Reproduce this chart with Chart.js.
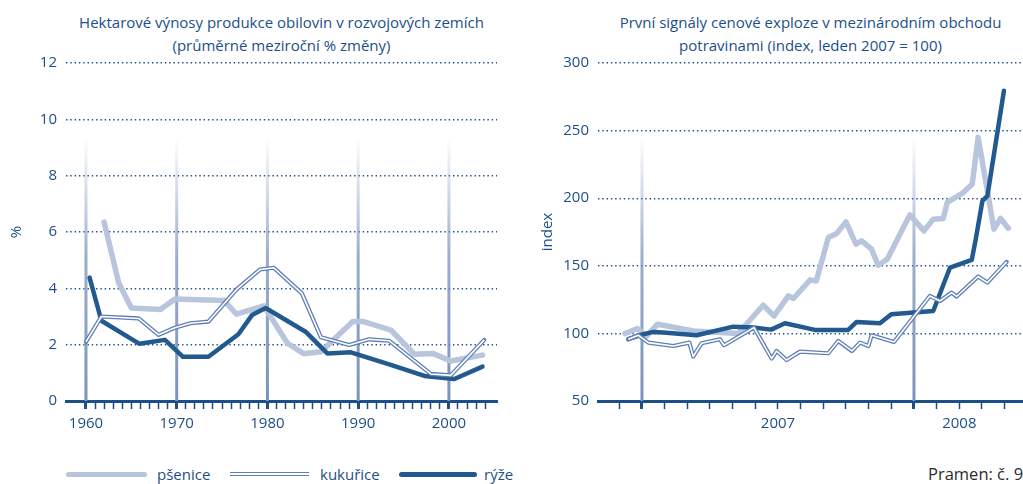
<!DOCTYPE html>
<html lang="cs">
<head>
<meta charset="utf-8">
<title>Výnosy obilovin a ceny potravin</title>
<script src="https://cdn.jsdelivr.net/npm/chart.js@4.4.1/dist/chart.umd.min.js"></script>
<style>
  html, body { margin: 0; padding: 0; background: #fff; }
  body { position: relative; width: 1023px; height: 484px; overflow: hidden;
         font-family: "Open Sans", sans-serif; color: #1c4f89; }
  canvas { position: absolute; top: 0; }
  #grafVynosy { left: 0; }
  #grafCeny { left: 520px; }
  .nadpis { position: absolute; top: 11px; text-align: center; font-size: 15px; line-height: 23px; white-space: nowrap; }
  .legenda { position: absolute; top: 464px; font-size: 15px; line-height: 20px; white-space: nowrap; }
  .vzorek { position: absolute; top: 472px; }
</style>
</head>
<body>

<div class="nadpis" style="left:66px; width:431px;">Hektarové výnosy produkce obilovin v rozvojových zemích<br>(průměrné meziroční % změny)</div>
<div class="nadpis" style="left:598px; width:425px;">První signály cenové exploze v mezinárodním obchodu<br>potravinami (index, leden 2007 = 100)</div>

<canvas id="grafVynosy" width="520" height="440"></canvas>
<canvas id="grafCeny" width="503" height="440"></canvas>

<div class="vzorek" style="left:66px; width:81px; height:5px; background:#b9c5dd; border-radius:3px;"></div>
<div class="legenda" style="left:157px;">pšenice</div>
<div class="vzorek" style="left:230px; width:79px; height:2px; background:#fff; border-top:1px solid #5f7fb4; border-bottom:1px solid #5f7fb4; top:472px;"></div>
<div class="legenda" style="left:320px;">kukuřice</div>
<div class="vzorek" style="left:399px; width:78px; height:5px; background:#22598f; border-radius:3px;"></div>
<div class="legenda" style="left:484px;">rýže</div>
<div class="legenda" style="left:928px; color:#2b2b2b; font-size:16.5px;">Pramen: č. 9</div>

<script>
// --- levý graf: výnosy (průměrné meziroční % změny) ---
const psenice1Roky = [1962, 1963.6, 1965, 1968.2, 1969.8, 1975.2, 1976.6, 1979.6, 1982.2, 1984, 1985.9, 1989.4, 1990.6, 1993.6, 1996.2, 1998.2, 2000.2, 2003.7];
const psenice1Hodnoty = [6.35, 4.2, 3.3, 3.25, 3.62, 3.57, 3.08, 3.38, 2.05, 1.68, 1.75, 2.82, 2.82, 2.52, 1.66, 1.69, 1.42, 1.63];

const kukurice1Roky = [1960, 1961.7, 1965.8, 1968, 1969.8, 1971.5, 1973.5, 1976.6, 1979.2, 1980.7, 1983.8, 1985.9, 1989, 1991.2, 1993.4, 1998, 2000.2, 2003.9];
const kukurice1Hodnoty = [2.1, 3.0, 2.93, 2.35, 2.6, 2.76, 2.82, 3.96, 4.67, 4.73, 3.82, 2.26, 1.99, 2.19, 2.14, 0.96, 0.91, 2.17];

const ryze1Roky = [1960.4, 1961.7, 1965.9, 1968.7, 1970.7, 1973.5, 1976.8, 1978.3, 1979.8, 1984.2, 1986.6, 1989.2, 1993.6, 1997.3, 2000.6, 2003.7];
const ryze1Hodnoty = [4.38, 2.85, 2.03, 2.17, 1.57, 1.57, 2.37, 3.05, 3.3, 2.46, 1.69, 1.73, 1.28, 0.89, 0.78, 1.22];

const dekady = [1960, 1970, 1980, 1990, 2000];

// --- pravý graf: cenový index (měsíce od ledna 2007) ---
const psenice2Mesice = [-0.75, -0.2, 0.18, 0.69, 2.27, 4.24, 5.35, 5.83, 6.46, 6.68, 7.42, 7.69, 8.22, 8.59, 9.0, 9.44, 9.69, 10.13, 10.42, 10.82, 11.82, 12.44, 12.85, 13.29, 13.47, 14.14, 14.57, 14.83, 15.53, 15.82, 16.16];
const psenice2Hodnoty = [99.9, 103.6, 97.7, 106.8, 101.8, 99.9, 120.8, 112.9, 127.7, 125.8, 139.6, 138.8, 170.9, 173.9, 182.5, 166, 168.4, 162.3, 150.4, 154.9, 187.7, 175.8, 184.5, 185, 196.9, 203.7, 210.4, 245, 177.1, 185, 177.8];

const kukurice2Mesice = [-0.6, -0.16, 0.28, 1.38, 2.09, 2.26, 2.63, 3.44, 3.62, 4.94, 5.72, 5.94, 6.38, 6.97, 8.22, 8.66, 9.26, 9.62, 9.99, 10.13, 11.12, 12.7, 13.15, 13.66, 13.88, 14.83, 15.24, 16.09];
const kukurice2Hodnoty = [95.7, 98.6, 93.2, 90.7, 93.2, 82.9, 92.7, 95.7, 91.2, 104.3, 81.4, 87, 80.3, 86.5, 85.3, 94.4, 87, 93.2, 90.7, 98.6, 93.7, 127.7, 124, 130.2, 127.3, 142.1, 137.6, 152.9];

const ryze2Mesice = [-0.6, 0.06, 0.5, 0.94, 2.41, 4.03, 4.91, 5.7, 6.31, 7.63, 9.1, 9.47, 10.5, 11.0, 12.85, 13.59, 14.55, 14.72, 15.02, 15.24, 15.97];
const ryze2Hodnoty = [95.7, 99.4, 101.1, 100.6, 98.6, 105, 104.3, 102.8, 107.5, 102.6, 102.6, 108.5, 107.5, 114.2, 116.6, 148.7, 154.4, 169.2, 198, 201.7, 279.5];

const hraniceRoku = [0, 12];          // leden 2007, leden 2008
const popiskyPozice = [6, 14];
const popiskyText = ['2007', '2008'];

const MODRA = '#1c4f89';
const SVETLA = '#b9c5dd';
const STREDNI = '#5f7fb4';
const TMAVA = '#22598f';
const FONT = { family: '"Open Sans", sans-serif', size: 15 };

function body(xs, ys) {
    return xs.map((x, i) => ({ x: x, y: ys[i] }));
}

function datasety(ps, ku, ry) {
    const spolecne = { pointRadius: 0, tension: 0, borderJoinStyle: 'round', borderCapStyle: 'round', fill: false };
    // první dataset se kreslí navrch
    return [
        { ...spolecne, data: ku, borderColor: '#fff', borderWidth: 1.6, borderCapStyle: 'butt' },
        { ...spolecne, data: ku, borderColor: STREDNI, borderWidth: 4.2 },
        { ...spolecne, data: ry, borderColor: TMAVA, borderWidth: 4.5 },
        { ...spolecne, data: ps, borderColor: SVETLA, borderWidth: 5.5 }
    ];
}

// svislé čáry s přechodem do ztracena
const svisleCary = {
    id: 'svisleCary',
    beforeDatasetsDraw(chart, args, opts) {
        const { ctx, chartArea, scales } = chart;
        const top = chartArea.top + (chartArea.bottom - chartArea.top) * 0.22;
        const grad = ctx.createLinearGradient(0, top, 0, chartArea.bottom);
        grad.addColorStop(0, 'rgba(122,147,188,0)');
        grad.addColorStop(0.45, 'rgba(122,147,188,0.75)');
        grad.addColorStop(1, 'rgba(122,147,188,1)');
        ctx.save();
        ctx.strokeStyle = grad;
        ctx.lineWidth = 3;
        opts.hodnoty.forEach(v => {
            const x = scales.x.getPixelForValue(v);
            ctx.beginPath();
            ctx.moveTo(x, top);
            ctx.lineTo(x, chartArea.bottom);
            ctx.stroke();
        });
        ctx.restore();
    }
};

function osaY(min, max, krok, nazev, sirka, odsazeni) {
    return {
        min: min, max: max,
        ticks: { stepSize: krok, color: MODRA, font: FONT, padding: 9 },
        grid: { color: MODRA, lineWidth: 1.4, drawTicks: false },
        border: { display: false, dash: [1.4, 2.9] },
        title: { display: true, text: nazev, color: MODRA, font: FONT, padding: { top: odsazeni, bottom: 0 } },
        afterFit: s => { s.width = sirka; }
    };
}

function osaX(min, max, znacky, hlavni, popisek) {
    return {
        type: 'linear', min: min, max: max,
        afterBuildTicks: s => { s.ticks = znacky.map(v => ({ value: v })); },
        ticks: { autoSkip: false, maxRotation: 0, color: MODRA, font: FONT, padding: 6, callback: popisek },
        grid: {
            drawOnChartArea: false, drawTicks: true, tickLength: 8, tickColor: MODRA,
            tickWidth: c => hlavni.includes(c.tick && c.tick.value) ? 3 : 1.5
        },
        border: { display: true, color: MODRA, width: 3 },
        afterFit: s => { s.height = 39; }
    };
}

function spolecneVolby(xOsa, yOsa, cary, praveOdsazeni) {
    return {
        responsive: false,
        maintainAspectRatio: false,
        animation: false,
        layout: { padding: { top: 63, right: praveOdsazeni, bottom: 0, left: 0 } },
        plugins: { legend: { display: false }, tooltip: { enabled: false }, svisleCary: { hodnoty: cary } },
        scales: { x: xOsa, y: yOsa }
    };
}

// znacky na ose x
const rokyZnacky = [];
for (let r = 1960; r <= 2004; r++) rokyZnacky.push(r);
const mesiceZnacky = [];
for (let m = -1; m <= 16; m++) mesiceZnacky.push(m);

new Chart(document.getElementById('grafVynosy'), {
    type: 'line',
    data: { datasets: datasety(body(psenice1Roky, psenice1Hodnoty), body(kukurice1Roky, kukurice1Hodnoty), body(ryze1Roky, ryze1Hodnoty)) },
    options: spolecneVolby(
        osaX(1957.8, 2005.3, rokyZnacky, dekady, v => (v % 10 === 0 ? String(v) : '')),
        osaY(0, 12, 2, '%', 66, 8),
        dekady, 23),
    plugins: [svisleCary]
});

new Chart(document.getElementById('grafCeny'), {
    type: 'line',
    data: { datasets: datasety(body(psenice2Mesice, psenice2Hodnoty), body(kukurice2Mesice, kukurice2Hodnoty), body(ryze2Mesice, ryze2Hodnoty)) },
    options: spolecneVolby(
        osaX(-1.94, 16.81, mesiceZnacky, hraniceRoku, v => {
            const i = popiskyPozice.indexOf(v);
            return i >= 0 ? popiskyText[i] : '';
        }),
        osaY(50, 300, 50, 'index', 78, 19),
        hraniceRoku, 0),
    plugins: [svisleCary]
});
</script>
</body>
</html>
